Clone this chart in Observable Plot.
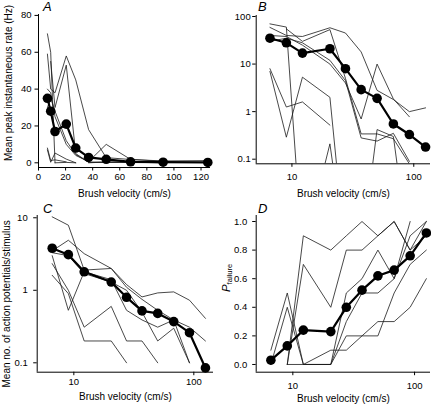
<!DOCTYPE html>
<html><head><meta charset="utf-8">
<script src="https://cdn.jsdelivr.net/npm/d3@7"></script>
<script src="https://cdn.jsdelivr.net/npm/@observablehq/plot@0.6"></script>
<style>
html,body{margin:0;padding:0;background:#fff;}
#fig{position:relative;width:431px;height:408px;overflow:hidden;font-family:"Liberation Sans",Arial,Helvetica,sans-serif;}
</style></head><body><div id="fig"></div>
<script>
// ---- data ----
const velocity = [6.6, 9, 12.2, 20.5, 27.5, 37, 50, 68, 92, 125];

const meanRate = [35, 28, 17, 21, 8, 2.9, 1.9, 0.55, 0.33, 0.18];
const rateUnit1 = [59, 40, 38, 58, 45, 18, 2.8, 1.8, 1.0, 1.2];
const rateUnit2 = [null, 55, 30, 53, 5, 0.34, 0.34, 0.27, 0.08, null];
const rateUnit3 = [8, 1.25, 1.6, 0.52, null, null, null, null, null, null];
const rateUnit4 = [7, 0.29, 5.3, 2.0, 0, null, null, null, null, null];
const rateUnit5 = [70, 60, 0, null, null, null, null, null, null, null];
const rateUnit6 = [40, 38, 25, 10, 4, 0.7, 10, 1.85, 0.78, null];
const rateUnit7 = [null, null, 0, 0.21, 0, null, null, null, null, null];
const rateUnit8 = [null, null, null, null, null, 0, 0.42, 0.3, 0, null];
const rateUnit9 = [30, 35, 28, 12, 4.5, 0.28, 0.24, 0.35, 0.09, null];

const meanAP = [3.8, 3.1, 1.8, 1.3, 0.8, 0.52, 0.48, 0.37, 0.26, 0.085];
const apUnit1 = [10.3, 7.9, 1.9, 2.0, 1.2, 0.81, 0.92, 0.95, 0.73, 0.41];
const apUnit2 = [3.5, 4.9, 3.2, 2.0, 1.1, 0.75, 0.53, 0.39, 0.31, 0.2];
const apUnit3 = [3.0, 0.53, 1.8, 1.4, 0.53, 0.39, 0.31, 0.39, 0.1, null];
const apUnit4 = [2.33, 1.0, 0.31, 0.6, 0.2, 0.2, 0.1, null, null, null];
const apUnit5 = [1.61, 0.9, 0.2, 0.2, 0.1, null, null, null, null, null];
const apUnit6 = [3.3, 3.0, 1.7, 1.3, 1.0, 0.5, 0.2, 0.3, 0.1, null];

const meanPfail = [0.03, 0.13, 0.24, 0.23, 0.4, 0.52, 0.62, 0.66, 0.76, 0.92];
const pfUnit1 = [null, 0, 0.9, 0.8, 0.9, 1.0, 0.9, 1.0, 0.8, 1.0];
const pfUnit2 = [null, 0, 0.7, 0.4, 0.8, 0.8, 0.9, 1.0, 0.8, 0.9];
const pfUnit3 = [0.1, 0.5, 0, 0, 0.5, 0.6, 0.8, 0.6, 1.0, null];
const pfUnit4 = [0, 0.4, 0, 0, 0.3, 0.5, 0.5, 0.6, 0.9, 1.0];
const pfUnit5 = [null, 0, 0, 0, 0.2, 0.2, 0.2, 0.5, 0.7, 0.8];
const pfUnit6 = [null, null, 0, 0.1, 0.1, 0.2, 0.3, 0.3, 0.4, 0.6];

const xTicksLin = [0, 20, 40, 60, 80, 100, 120];
const xTicksLog = [10, 100];
const yTicksA = [0, 20, 40, 60, 80];
const yTicksB = [0.1, 1, 10, 100];
const yTicksC = [0.1, 1, 10];
const yTicksD = [0, 0.2, 0.4, 0.6, 0.8, 1.0];
const xLabel = "Brush velocity (cm/s)";
const yLabelA = "Mean peak instantaneous rate (Hz)";
const yLabelC = "Mean no. of action potentials/stimulus";

// ---- drawing ----
const FONT = '"Liberation Sans", Arial, Helvetica, sans-serif';
const fig = document.getElementById("fig");

function longForm(units, zeroTo) {
  const rows = [];
  units.forEach((u, i) => u.forEach((val, j) => {
    const y = val == null ? NaN : (val === 0 && zeroTo != null ? zeroTo : val);
    rows.push({unit: i, v: velocity[j], y});
  }));
  return rows;
}

function panel(cfg) {
  const meanRows = cfg.mean.map((y, j) => ({v: velocity[j], y}));
  const marks = [
    Plot.line(longForm(cfg.units, cfg.zero), {x: "v", y: "y", z: "unit", stroke: "#1a1a1a", strokeWidth: 0.8, clip: true}),
    Plot.line(meanRows, {x: "v", y: "y", stroke: "#000", strokeWidth: 2.2}),
    Plot.dot(meanRows, {x: "v", y: "y", r: 4.8, fill: "#000", stroke: "none"}),
    Plot.ruleX([cfg.xDomain[0]], {stroke: "#000", strokeWidth: 1}),
    Plot.ruleY([cfg.yDomain[0]], {stroke: "#000", strokeWidth: 1}),
    Plot.axisX({ticks: cfg.xTicks, tickSize: 3.5, tickPadding: cfg.xPad, tickFormat: d => String(d), label: null}),
    Plot.axisY({ticks: cfg.yTicks, tickSize: 3.5, tickPadding: cfg.yPad, tickFormat: cfg.yFmt || (d => String(d)), label: null}),
    Plot.text([xLabel], {text: d => d, frameAnchor: "bottom", textAnchor: "middle", lineAnchor: "middle", dy: cfg.xLabelDy, fontSize: 10})
  ];
  if (cfg.yLabel) marks.push(Plot.text([cfg.yLabel], {text: d => d, frameAnchor: "left", textAnchor: "middle", lineAnchor: "middle", dx: cfg.yLabelDx, dy: cfg.yLabelDy, rotate: -90, fontSize: 10}));
  const svg = Plot.plot({
    width: cfg.width, height: cfg.height,
    marginTop: cfg.m[0], marginRight: cfg.m[1], marginBottom: cfg.m[2], marginLeft: cfg.m[3],
    style: {fontFamily: FONT, fontSize: "9.5px", background: "transparent", color: "#000", overflow: "visible"},
    x: {type: cfg.xType, domain: cfg.xDomain},
    y: {type: cfg.yType, domain: cfg.yDomain},
    marks
  });
  svg.style.position = "absolute";
  svg.style.left = cfg.left + "px";
  svg.style.top = cfg.top + "px";
  fig.appendChild(svg);
  return svg;
}

panel({left: 0, top: 0, width: 215, height: 200, m: [14, 5, 33, 38],
  xType: "linear", xDomain: [0, 127], yType: "linear", yDomain: [-2.55, 80.5],
  xTicks: xTicksLin, yTicks: yTicksA, xPad: 2, yPad: 3.5,
  units: [rateUnit1, rateUnit2, rateUnit3, rateUnit4, rateUnit5, rateUnit6, rateUnit7, rateUnit8, rateUnit9],
  mean: meanRate, xLabelDy: 26, yLabel: yLabelA, yLabelDx: -30, yLabelDy: -8});

panel({left: 215, top: 0, width: 216, height: 200, m: [15, 1, 36.7, 40.7],
  xType: "log", xDomain: [5.09, 137.2], yType: "log", yDomain: [0.08, 105],
  xTicks: xTicksLog, yTicks: yTicksB, xPad: 5.5, yPad: 2, zero: 1e-3,
  units: [rateUnit1, rateUnit2, rateUnit3, rateUnit4, rateUnit5, rateUnit6, rateUnit7, rateUnit8, rateUnit9],
  mean: meanRate, xLabelDy: 30});

panel({left: 0, top: 200, width: 215, height: 208, m: [15, 2, 36.3, 36.7],
  xType: "log", xDomain: [4.95, 145.9], yType: "log", yDomain: [0.0742, 10.75],
  xTicks: xTicksLog, yTicks: yTicksC, xPad: 2.8, yPad: 6, zero: 1e-3,
  units: [apUnit1, apUnit2, apUnit3, apUnit4, apUnit5, apUnit6],
  mean: meanAP, xLabelDy: 25, yLabel: yLabelC, yLabelDx: -30, yLabelDy: 10});

const svgD = panel({left: 215, top: 200, width: 216, height: 208, m: [15, 1, 36.3, 40.7],
  xType: "log", xDomain: [5.0, 135.2], yType: "linear", yDomain: [-0.054, 1.042],
  xTicks: xTicksLog, yTicks: yTicksD, xPad: 6.5, yPad: 5.5, yFmt: d3.format(".1f"),
  units: [pfUnit1, pfUnit2, pfUnit3, pfUnit4, pfUnit5, pfUnit6],
  mean: meanPfail, xLabelDy: 26.6});

// P_failure label
const pl = d3.select(svgD).append("text")
  .attr("transform", "translate(15,78) rotate(-90)")
  .attr("text-anchor", "middle")
  .attr("font-family", FONT)
  .attr("fill", "#000");
pl.append("tspan").attr("font-size", 11.5).attr("font-style", "italic").text("P");
pl.append("tspan").attr("font-size", 7.5).attr("dy", 2).text("failure");

// panel letters
const ov = d3.select(fig).append("svg")
  .attr("width", 431).attr("height", 408)
  .style("position", "absolute").style("left", 0).style("top", 0)
  .style("pointer-events", "none");
const letters = [["A", 43, 10.5], ["B", 258, 11], ["C", 43, 213], ["D", 258, 213]];
ov.selectAll("text").data(letters).join("text")
  .attr("x", d => d[1]).attr("y", d => d[2])
  .attr("font-family", FONT).attr("font-style", "italic").attr("font-size", 13)
  .text(d => d[0]);
</script></body></html>
